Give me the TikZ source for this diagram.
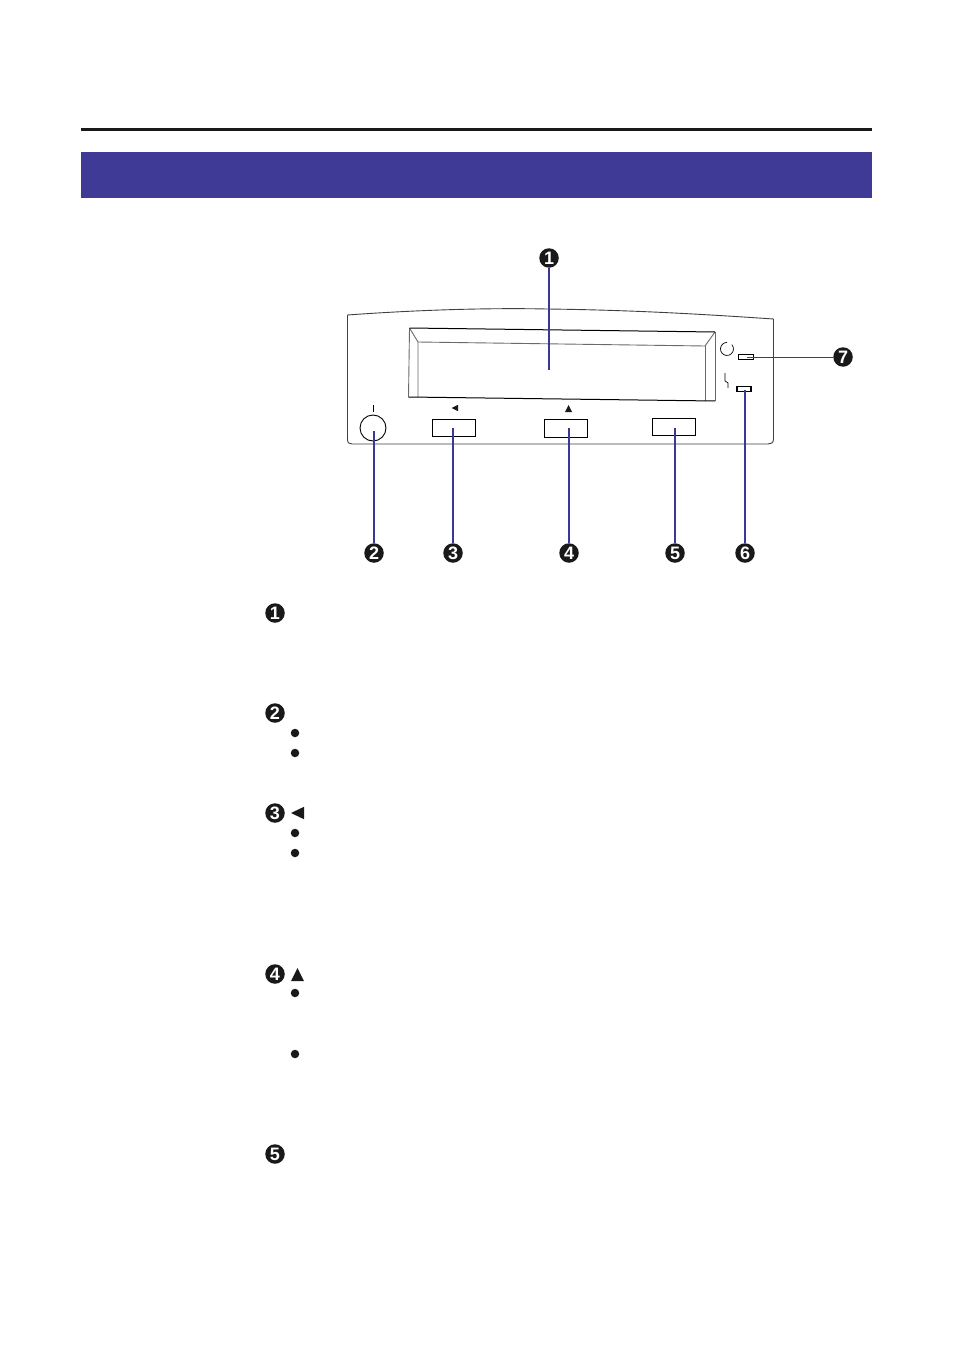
\documentclass[tikz,border=0pt]{standalone}
\usepackage{fontspec}
\setmainfont{Liberation Sans}
\definecolor{bandblue}{HTML}{3E3A96}
\definecolor{leadblue}{HTML}{3A3897}
\definecolor{panelgrey}{HTML}{404040}
\definecolor{softgrey}{HTML}{6A6A6A}
\tikzset{
  badge/.style={circle,fill=black!90,text=white,inner sep=0pt,minimum size=19.5pt,font=\fontsize{18}{18}\selectfont\bfseries},
  bullet/.style={circle,fill=black!90,inner sep=0pt,minimum size=8.5pt},
  lead/.style={draw=leadblue,line width=2.3pt},
  thinlead/.style={draw=leadblue,line width=0.9pt},
  panel/.style={draw=panelgrey,line width=0.9pt},
  keybox/.style={draw=black,line width=0.9pt,fill=white,inner sep=0pt},
  mark glyph/.style={fill=black!90,draw=none}
}
\begin{document}
\begin{tikzpicture}[x=1pt,y=-1pt]
\useasboundingbox (0,0) rectangle (954,1351);
\fill[white] (0,0) rectangle (954,1351);
% header
\fill[black!90] (81,128.3) rectangle (872,131);
\fill[bandblue] (81,152) rectangle (872,198);
% panel
\draw[panel,line join=round] (347.5,315) .. controls (430,309) and (500,308) .. (547,309) .. controls (630,310) and (700,314) .. (773.5,319)
  -- (773.5,439) .. controls (773.5,443) and (771,444) .. (768,444) -- (352,444) .. controls (349,444) and (347.5,443) .. (347.5,439) -- cycle;
% display
\draw[draw=softgrey,line width=0.9pt] (409.5,328) -- (408.5,397);
\draw[draw=softgrey,line width=0.9pt] (409.5,328) -- (418,342) -- (418,397);
\draw[draw=softgrey,line width=0.9pt] (418,342) -- (705,346) -- (715,332);
\draw[draw=softgrey,line width=0.9pt] (705,346) -- (705,401);
\draw[draw=softgrey,line width=0.9pt] (715,332) -- (715,401);
\draw[draw=black,line width=1pt] (409.5,328) -- (715,332);
\draw[draw=black,line width=1pt] (408.5,397) -- (715,401);
% controls
\node[circle,draw=black,line width=0.9pt,minimum size=26pt,inner sep=0pt] (power) at (373,428) {};
\coordinate (powertick) at (373,405);
\draw[line width=0.7pt] (powertick) -- (373,412);
\node[keybox,minimum width=43.5pt,minimum height=17pt] (keyleft) at (454,427.5) {};
\node[keybox,minimum width=43.5pt,minimum height=18pt] (keyup) at (566,428) {};
\node[keybox,minimum width=43.5pt,minimum height=17pt] (keyfive) at (674,426.5) {};
\fill[mark glyph] (451.5,408) -- (458,404.8) -- (458,411.2) -- cycle;
\fill[mark glyph] (565,412) -- (568.5,405) -- (572,412) -- cycle;
\node[keybox,minimum width=15pt,minimum height=5pt] (ledseven) at (745.5,356.5) {};
\node[keybox,line width=1.1pt,minimum width=14pt,minimum height=4.5pt] (ledsix) at (744,389) {};
\draw[line width=0.7pt] (731.8,344.6) arc (-42:270:6.5);
\draw[line width=0.7pt] (725,373) -- (725,381) -- (728,383) -- (728,388);
% anchors for connector ends
\coordinate (displayend) at (549,370);
\coordinate (powerend) at (374,431);
\coordinate (leftend) at (453,428);
\coordinate (upend) at (569,428);
\coordinate (fiveend) at (675,428);
\coordinate (sixend) at (745,390);
\coordinate (sevenend) at (747,357);
% badges on the figure
\node[badge] (f1) at (549,258) {1};
\node[badge] (f2) at (374,553) {2};
\node[badge] (f3) at (453,553) {3};
\node[badge] (f4) at (569,553) {4};
\node[badge] (f5) at (675,553) {5};
\node[badge] (f6) at (745,553) {6};
\node[badge] (f7) at (843,357) {7};
% connectors
\draw[lead] (f1) -- (displayend);
\draw[lead] (f2) -- (powerend);
\draw[lead] (f3) -- (leftend);
\draw[lead] (f4) -- (upend);
\draw[lead] (f5) -- (fiveend);
\draw[lead] (f6) -- (sixend);
\draw[thinlead] (f7) -- (sevenend);
% list
\node[badge] (l1) at (275,613) {1};
\node[badge] (l2) at (275,713) {2};
\node[badge] (l3) at (275,813) {3};
\node[badge] (l4) at (275,974) {4};
\node[badge] (l5) at (275,1154) {5};
\fill[mark glyph] (291,813) -- (304,806.8) -- (304,819.2) -- cycle;
\fill[mark glyph] (291,981) -- (297.5,968) -- (304,981) -- cycle;
\node[bullet] (b1) at (295,733) {};
\node[bullet] (b2) at (295,753) {};
\node[bullet] (b3) at (295,833) {};
\node[bullet] (b4) at (295,853) {};
\node[bullet] (b5) at (295,993) {};
\node[bullet] (b6) at (295,1054) {};
\end{tikzpicture}
\end{document}
